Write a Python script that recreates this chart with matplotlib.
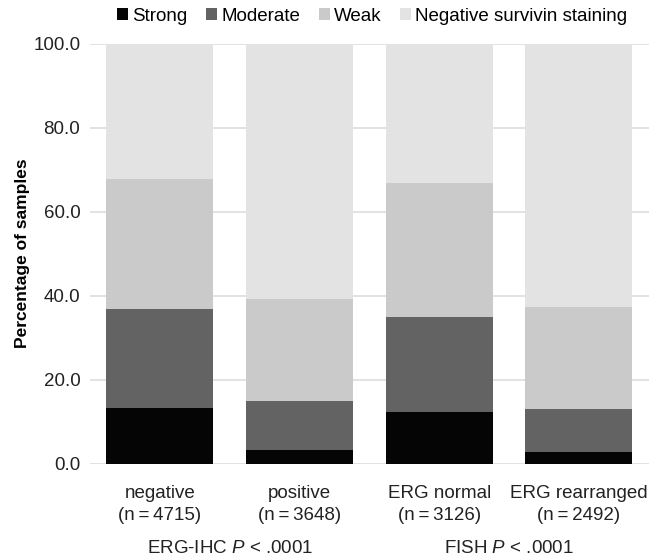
import numpy as np
import matplotlib
matplotlib.use("Agg")
from matplotlib import pyplot as plt

plt.rcParams['font.family'] = ['Liberation Sans', 'DejaVu Sans']
plt.rcParams['mathtext.fontset'] = 'custom'
plt.rcParams['mathtext.it'] = 'Liberation Sans:italic'
plt.rcParams['mathtext.rm'] = 'Liberation Sans'

categories = ['negative\n(n\u2009=\u20094715)', 'positive\n(n\u2009=\u20093648)',
              'ERG normal\n(n\u2009=\u20093126)', 'ERG rearranged\n(n\u2009=\u20092492)']
strong = [13.2, 3.2, 12.2, 2.7]
moderate = [23.5, 11.7, 22.7, 10.4]
weak = [31.1, 24.2, 31.9, 24.1]
negative = [100 - s - m - w for s, m, w in zip(strong, moderate, weak)]
series_names = ['Strong', 'Moderate', 'Weak', 'Negative survivin staining']
colors = ['#050505', '#636363', '#cacaca', '#e3e3e3']
groups = ['ERG-IHC $\\it{P}$ < .0001', 'FISH $\\it{P}$ < .0001']

fs = 13.5
txt = '#222222'

fig = plt.figure(figsize=(6.52, 5.58), dpi=100)
fig.set_facecolor('white')
ax = fig.add_axes([0.138, 0.169, 0.857, 0.753])

x = np.arange(len(categories))
bottom = np.zeros(len(categories))
for name, vals, c in zip(series_names, [strong, moderate, weak, negative], colors):
    ax.bar(x, vals, width=0.765, bottom=bottom, color=c, label=name, zorder=2)
    bottom += np.array(vals)

ax.set_xlim(-0.5, 3.5)
ax.set_ylim(0, 100)
ax.set_yticks(np.arange(0, 101, 20))
ax.set_yticklabels(['%.1f' % v for v in np.arange(0, 101, 20)], fontsize=fs, color=txt)
ax.set_xticks(x)
ax.set_xticklabels(categories, fontsize=fs, color=txt, linespacing=1.45)
ax.tick_params(length=0)
ax.tick_params(axis='y', pad=7)
ax.tick_params(axis='x', pad=15)
ax.yaxis.grid(True, color='#dddddd', lw=1.2, zorder=0)
for s in ax.spines.values():
    s.set_visible(False)
ax.set_ylabel('Percentage of samples', fontsize=12.5, fontweight='bold')
ax.yaxis.set_label_coords(-0.107, 0.5)

ax.text(0.5, -0.203, groups[0], transform=ax.get_xaxis_transform(), ha='center', va='center',
        fontsize=fs, color=txt)
ax.text(2.5, -0.203, groups[1], transform=ax.get_xaxis_transform(), ha='center', va='center',
        fontsize=fs, color=txt)

ax.legend(loc='center', bbox_to_anchor=(0.505, 1.065), ncol=4, frameon=False, fontsize=fs,
          handlelength=0.6, handleheight=0.6, handletextpad=0.2, columnspacing=1.0,
          borderaxespad=0)

plt.savefig('out.png', dpi=100, facecolor='white')
